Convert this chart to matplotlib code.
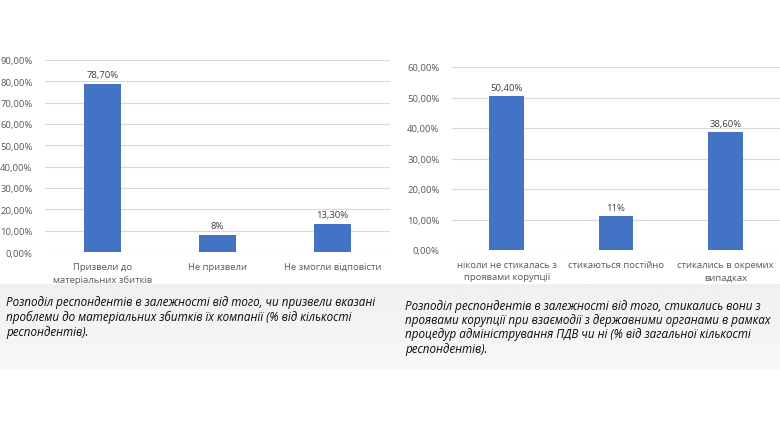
import matplotlib.pyplot as plt
import numpy as np
from matplotlib.ticker import FuncFormatter

# Data
left_cats = ['Призвели до\nматеріальних збитків', 'Не призвели', 'Не змогли відповісти']
left_vals = [78.7, 8.0, 13.3]
left_labels = ['78,70%', '8%', '13,30%']

right_cats = ['ніколи не стикалась з\nпроявами корупції', 'стикаються постійно',
              'стикались в окремих\nвипадках']
right_vals = [50.4, 11.0, 38.6]
right_labels = ['50,40%', '11%', '38,60%']

left_caption = ('Розподіл респондентів в залежності від того, чи призвели вказані\n'
                'проблеми до матеріальних збитків їх компанії (% від кількості\n'
                'респондентів).')
right_caption = ('Розподіл респондентів в залежності від того, стикались вони з\n'
                 'проявами корупції при взаємодії з державними органами в рамках\n'
                 'процедур адміністрування ПДВ чи ні (% від загальної кількості\n'
                 'респондентів).')

BAR = '#4472C4'
GRID = '#d9d9d9'
TXT = '#595959'
FONT = ['Open Sans', 'DejaVu Sans']

W, H = 780, 431
fig = plt.figure(figsize=(W / 100, H / 100), dpi=100)
fig.patch.set_facecolor('white')


def px_axes(x0, y0, x1, y1, **kw):
    return fig.add_axes([x0 / W, 1 - y1 / H, (x1 - x0) / W, (y1 - y0) / H], **kw)


# light grey band behind the captions
bg = px_axes(0, 285, W, 371, zorder=0)
grad = np.linspace(0.94, 0.97, 50).reshape(-1, 1)
bg.imshow(grad, aspect='auto', cmap='gray', vmin=0, vmax=1, extent=[0, 1, 0, 1])
bg.axis('off')

pct = FuncFormatter(lambda v, _: f'{v:.2f}'.replace('.', ',') + '%')


def bar_panel(ax, cats, vals, labels, ymax, step):
    x = np.arange(len(cats))
    ax.bar(x, vals, width=0.32, color=BAR, zorder=3)
    for xi, v, lab in zip(x, vals, labels):
        ax.text(xi, v + ymax * 0.025, lab, ha='center', va='bottom',
                fontsize=6.8, color='#404040', family=FONT)
    ax.set_xlim(-0.5, len(cats) - 0.5)
    ax.set_ylim(0, ymax)
    ax.set_yticks(np.arange(0, ymax + 0.1, step))
    ax.yaxis.set_major_formatter(pct)
    ax.set_xticks(x)
    ax.set_xticklabels(cats, fontsize=6.8, color=TXT, family=FONT, linespacing=1.5)
    ax.grid(axis='y', color=GRID, linewidth=0.8, zorder=0)
    for s in ax.spines.values():
        s.set_visible(False)
    ax.tick_params(length=0, pad=7)
    ax.tick_params(axis='y', labelsize=6.8, labelcolor=TXT, pad=9)
    for t in ax.get_yticklabels():
        t.set_family(FONT)
    ax.set_facecolor('none')


ax1 = px_axes(45, 61, 390, 253)
bar_panel(ax1, left_cats, left_vals, left_labels, 90, 10)

ax2 = px_axes(452, 68, 780, 251)
bar_panel(ax2, right_cats, right_vals, right_labels, 60, 10)

fig.text(6 / W, 1 - 296 / H, left_caption, ha='left', va='top', fontsize=8.4,
         style='italic', family=FONT, color='#0a0a0a', linespacing=1.2)
fig.text(405 / W, 1 - 300 / H, right_caption, ha='left', va='top', fontsize=8.4,
         style='italic', family=FONT, color='#0a0a0a', linespacing=1.12)

fig.savefig('out.png', dpi=100)
